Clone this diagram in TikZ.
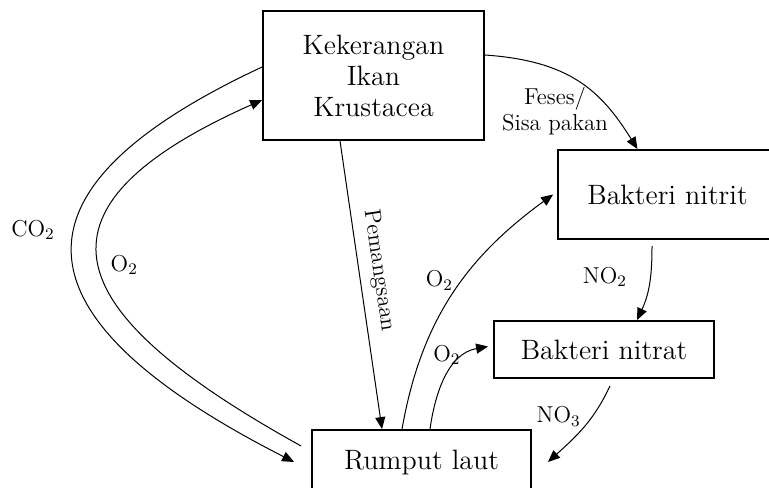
\documentclass[tikz,border=0pt]{standalone}
\usetikzlibrary{arrows.meta}
\begin{document}
\begin{tikzpicture}[x=0.5pt, y=0.5pt,
  box/.style={draw, line width=0.9pt, align=center, inner sep=0pt,
              font=\fontsize{14}{15.5}\selectfont},
  flow/.style={-{Triangle[length=6pt, width=5pt]}, line width=0.5pt},
  lbl/.style={font=\fontsize{11.5}{13}\selectfont, inner sep=1.5pt, align=center},
]
\useasboundingbox (0,0) rectangle (769,487);
\node[box, minimum width=110.5pt, minimum height=64.5pt] (kek)    at (373.5,411.5) {Kekerangan\\Ikan\\Krustacea};
\node[box, minimum width=109.5pt, minimum height=44.5pt] (nitrit) at (667.5,292.5) {Bakteri nitrit};
\node[box, minimum width=110pt,   minimum height=28.5pt] (nitrat) at (604,137.5)   {Bakteri nitrat};
\node[box, minimum width=109.5pt, minimum height=32pt]   (rumput) at (421.5,25)    {Rumput laut};

\draw[flow] ([yshift=4.25pt]kek.west) to[out=205, in=153, out looseness=1.75, in looseness=2.2]
  node[lbl, left=8pt, pos=0.45] {CO\textsubscript{2}} ([xshift=-8.5pt]rumput.west);
\draw[flow] ([xshift=-5pt, yshift=8pt]rumput.west) to[out=151, in=204, looseness=2]
  node[lbl, right=4pt, pos=0.5] {O\textsubscript{2}} ([yshift=-12.25pt]kek.west);
\draw[flow] ([xshift=-16.75pt]kek.south) --
  node[lbl, sloped, above=3pt, pos=0.46] {Pemangsaan} ([xshift=-19.75pt]rumput.north);
\draw[flow] ([yshift=10.25pt]kek.east) to[out=-4, in=122, out looseness=1.2]
  node[lbl, left=2pt, yshift=3pt, pos=0.8] {Feses/\\Sisa pakan} ([xshift=-15pt]nitrit.north);
\draw[flow] ([xshift=-9.75pt]rumput.north) to[out=80, in=216]
  node[lbl, left=3pt, pos=0.57] {O\textsubscript{2}} ([xshift=-2pt]nitrit.west);
\draw[flow] ([xshift=4.25pt]rumput.north) to[out=82, in=190]
  node[lbl, left=1pt, pos=0.78] {O\textsubscript{2}} ([xshift=-2.5pt, yshift=1.5pt]nitrat.west);
\draw[flow] ([xshift=-7.75pt, yshift=-3pt]nitrit.south) to[out=-90, in=65]
  node[lbl, left=10pt, pos=0.4] {NO\textsubscript{2}} ([xshift=16.5pt]nitrat.north);
\draw[flow] ([xshift=3pt, yshift=-3.5pt]nitrat.south) to[out=-115, in=42]
  node[lbl, left=4pt, pos=0.35] {NO\textsubscript{3}} ([xshift=8pt]rumput.east);
\end{tikzpicture}
\end{document}
